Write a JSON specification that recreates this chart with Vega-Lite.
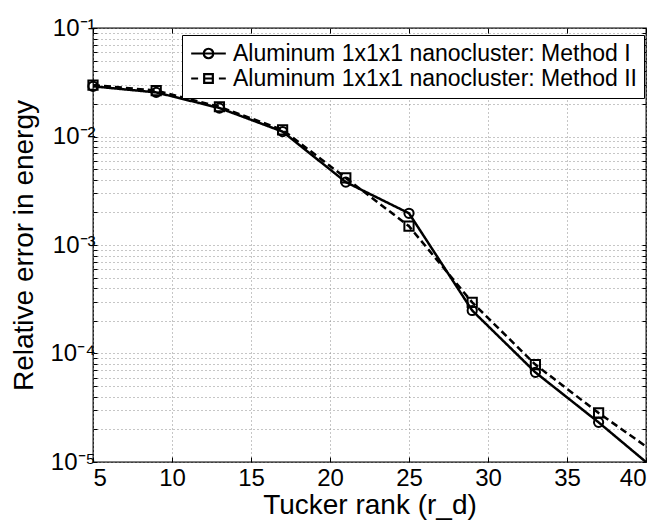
{
  "$schema": "https://vega.github.io/schema/vega-lite/v6.json",
  "width": 553,
  "height": 434,
  "autosize": {"type": "none"},
  "padding": {"left": 93, "top": 28, "right": 19, "bottom": 59},
  "background": "white",
  "config": {
    "font": "Liberation Sans",
    "view": {"stroke": "black", "strokeWidth": 1.3},
    "axis": {
      "domain": false,
      "labelFont": "Liberation Sans",
      "labelFontSize": 24,
      "labelColor": "black",
      "titleFont": "Liberation Sans",
      "titleFontSize": 28,
      "titleFontWeight": "normal",
      "titleColor": "black",
      "tickColor": "black",
      "tickWidth": 1,
      "gridColor": "#8c8c8c",
      "gridDash": [1, 3],
      "gridWidth": 1,
      "gridOpacity": 1
    }
  },
  "data": {
    "values": [
      {"rank": 5, "error": 0.0290, "series": "Aluminum 1x1x1 nanocluster: Method I"},
      {"rank": 9, "error": 0.0255, "series": "Aluminum 1x1x1 nanocluster: Method I"},
      {"rank": 13, "error": 0.0183, "series": "Aluminum 1x1x1 nanocluster: Method I"},
      {"rank": 17, "error": 0.0111, "series": "Aluminum 1x1x1 nanocluster: Method I"},
      {"rank": 21, "error": 0.0038, "series": "Aluminum 1x1x1 nanocluster: Method I"},
      {"rank": 25, "error": 0.00196, "series": "Aluminum 1x1x1 nanocluster: Method I"},
      {"rank": 29, "error": 0.000249, "series": "Aluminum 1x1x1 nanocluster: Method I"},
      {"rank": 33, "error": 0.000067, "series": "Aluminum 1x1x1 nanocluster: Method I"},
      {"rank": 37, "error": 0.0000232, "series": "Aluminum 1x1x1 nanocluster: Method I"},
      {"rank": 41, "error": 0.00000755, "series": "Aluminum 1x1x1 nanocluster: Method I"},
      {"rank": 5, "error": 0.0298, "series": "Aluminum 1x1x1 nanocluster: Method II"},
      {"rank": 9, "error": 0.0265, "series": "Aluminum 1x1x1 nanocluster: Method II"},
      {"rank": 13, "error": 0.0188, "series": "Aluminum 1x1x1 nanocluster: Method II"},
      {"rank": 17, "error": 0.0115, "series": "Aluminum 1x1x1 nanocluster: Method II"},
      {"rank": 21, "error": 0.00415, "series": "Aluminum 1x1x1 nanocluster: Method II"},
      {"rank": 25, "error": 0.00149, "series": "Aluminum 1x1x1 nanocluster: Method II"},
      {"rank": 29, "error": 0.000296, "series": "Aluminum 1x1x1 nanocluster: Method II"},
      {"rank": 33, "error": 0.000079, "series": "Aluminum 1x1x1 nanocluster: Method II"},
      {"rank": 37, "error": 0.0000283, "series": "Aluminum 1x1x1 nanocluster: Method II"},
      {"rank": 41, "error": 0.000011, "series": "Aluminum 1x1x1 nanocluster: Method II"}
    ]
  },
  "layer": [
    {
      "mark": {"type": "line", "clip": true, "color": "black", "strokeWidth": 2.5},
      "encoding": {
        "x": {
          "field": "rank", "type": "quantitative",
          "scale": {"domain": [5, 40], "nice": false, "zero": false},
          "axis": {
            "orient": "bottom", "values": [5, 10, 15, 20, 25, 30, 35, 40],
            "grid": true, "tickSize": -5, "labelPadding": 9,
            "title": "Tucker rank (r_d)", "titlePadding": 1
          }
        },
        "y": {
          "field": "error", "type": "quantitative",
          "scale": {"type": "log", "domain": [0.00001, 0.1], "nice": false},
          "axis": {
            "orient": "left",
            "values": [0.00001, 0.00002, 0.00003, 0.00004, 0.00005, 0.00006, 0.00007, 0.00008, 0.00009,
                       0.0001, 0.0002, 0.0003, 0.0004, 0.0005, 0.0006, 0.0007, 0.0008, 0.0009,
                       0.001, 0.002, 0.003, 0.004, 0.005, 0.006, 0.007, 0.008, 0.009,
                       0.01, 0.02, 0.03, 0.04, 0.05, 0.06, 0.07, 0.08, 0.09, 0.1],
            "labelExpr": "datum.value==0.1?'10⁻¹':datum.value==0.01?'10⁻²':datum.value==0.001?'10⁻³':datum.value==0.0001?'10⁻⁴':datum.value==0.00001?'10⁻⁵':''",
            "labelOverlap": false,
            "grid": true, "tickSize": -4, "labelPadding": 2,
            "title": "Relative error in energy", "titlePadding": 11
          }
        },
        "detail": {"field": "series", "type": "nominal"},
        "strokeDash": {
          "condition": {"test": "indexof(datum.series, 'Method II') >= 0", "value": [7, 4]},
          "value": [1, 0]
        }
      }
    },
    {
      "transform": [{"filter": "datum.rank <= 40"}],
      "mark": {"type": "point", "filled": false, "color": "black", "strokeWidth": 2, "size": 85, "opacity": 1},
      "encoding": {
        "x": {
          "field": "rank", "type": "quantitative",
          "scale": {"domain": [5, 40], "nice": false, "zero": false},
          "axis": {"orient": "top", "values": [5, 10, 15, 20, 25, 30, 35, 40], "grid": false, "labels": false, "tickSize": -5, "title": null}
        },
        "y": {
          "field": "error", "type": "quantitative",
          "scale": {"type": "log", "domain": [0.00001, 0.1], "nice": false},
          "axis": {
            "orient": "right",
            "values": [0.00001, 0.00002, 0.00003, 0.00004, 0.00005, 0.00006, 0.00007, 0.00008, 0.00009,
                       0.0001, 0.0002, 0.0003, 0.0004, 0.0005, 0.0006, 0.0007, 0.0008, 0.0009,
                       0.001, 0.002, 0.003, 0.004, 0.005, 0.006, 0.007, 0.008, 0.009,
                       0.01, 0.02, 0.03, 0.04, 0.05, 0.06, 0.07, 0.08, 0.09, 0.1],
            "grid": false, "labels": false, "tickSize": -4, "title": null
          }
        },
        "shape": {
          "condition": {"test": "indexof(datum.series, 'Method II') >= 0", "value": "square"},
          "value": "circle"
        }
      }
    },
    {
      "transform": [{"filter": "datum.rank > 1000"}],
      "mark": {"type": "point", "filled": false, "color": "black", "strokeWidth": 2.2, "opacity": 1},
      "encoding": {
        "x": {"field": "rank", "type": "quantitative", "scale": {"domain": [5, 40], "nice": false, "zero": false}, "axis": null},
        "y": {"field": "error", "type": "quantitative", "scale": {"type": "log", "domain": [0.00001, 0.1], "nice": false}, "axis": null},
        "shape": {
          "field": "series", "type": "nominal",
          "scale": {
            "domain": ["Aluminum 1x1x1 nanocluster: Method I", "Aluminum 1x1x1 nanocluster: Method II"],
            "range": [
              "M-2,0H2M-0.55,0A0.55,0.55 0 1,0 0.55,0A0.55,0.55 0 1,0 -0.55,0",
              "M-2,0H-1.2M1.2,0H2M-0.5,-0.5H0.5V0.5H-0.5ZM-0.5,0H0.5"
            ]
          },
          "legend": {
            "orient": "none", "legendX": 89, "legendY": 7,
            "title": null,
            "fillColor": "white", "strokeColor": "black",
            "padding": 7,
            "labelFont": "Liberation Sans", "labelFontSize": 23, "labelColor": "black", "labelLimit": 0,
            "symbolSize": 300, "symbolStrokeWidth": 2.2, "symbolStrokeColor": "black", "symbolFillColor": "transparent", "symbolOpacity": 1,
            "symbolOffset": 8, "labelOffset": 13, "rowPadding": 1
          }
        }
      }
    }
  ],
  "resolve": {"axis": {"x": "independent", "y": "independent"}}
}
